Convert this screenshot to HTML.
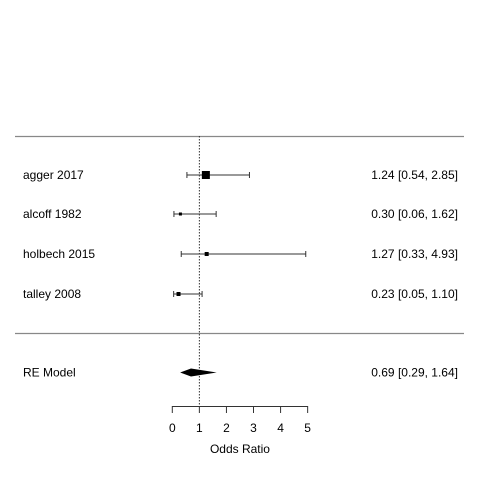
<!DOCTYPE html>
<html><head><meta charset="utf-8"><style>
body{margin:0;background:#fff;}
svg text{font-family:"Liberation Sans",sans-serif;font-size:12px;fill:#000;}
</style></head><body>
<svg id="c" width="480" height="480" xmlns="http://www.w3.org/2000/svg"></svg>
<script>
const studies=["agger 2017","alcoff 1982","holbech 2015","talley 2008"];
const est=[1.24,0.30,1.27,0.23];
const lo=[0.54,0.06,0.33,0.05];
const hi=[2.85,1.62,4.93,1.10];
const sqSize=[8,3,4,4];
const re={label:"RE Model",est:0.69,lo:0.29,hi:1.64};
const ticks=[0,1,2,3,4,5];
const NS="http://www.w3.org/2000/svg";
const svg=document.getElementById('c');
const X=v=>172.3+v*27.07;
const rowY=[175,214,254,294];
function el(t,a,p){const e=document.createElementNS(NS,t);for(const k in a)e.setAttribute(k,a[k]);(p||svg).appendChild(e);return e;}
let l=el('line',{x1:15,x2:464,y1:136.5,y2:136.5,stroke:'#888','stroke-width':1.2});


l=el('line',{x1:15,x2:464,y1:333.5,y2:333.5,stroke:'#888','stroke-width':1.2});


l=el('line',{x1:X(1),x2:X(1),y1:136,y2:406,stroke:'#333','stroke-dasharray':'1.5,1.5','stroke-width':1});


const f=v=>v.toFixed(2);
studies.forEach((s,i)=>{
  const y=rowY[i];
  const g=el('g',{});
  
  
  el('line',{x1:X(lo[i]),x2:X(hi[i]),y1:y,y2:y,stroke:'#333','stroke-width':1},g);
  el('line',{x1:X(lo[i]),x2:X(lo[i]),y1:y-3,y2:y+3,stroke:'#333','stroke-width':1},g);
  el('line',{x1:X(hi[i]),x2:X(hi[i]),y1:y-3,y2:y+3,stroke:'#333','stroke-width':1},g);
  const q=sqSize[i];
  el('rect',{x:X(est[i])-q/2,y:y-q/2,width:q,height:q,fill:'#000'},g);
  const t=el('text',{x:23,y:y+4},g);t.textContent=s;
  const t2=el('text',{x:458,y:y+4,'text-anchor':'end'},g);t2.textContent=f(est[i])+" ["+f(lo[i])+", "+f(hi[i])+"]";
});
const ry=372.5;
const d=el('polygon',{points:`${X(re.lo)},${ry} ${X(re.est)},${ry-4} ${X(re.hi)},${ry} ${X(re.est)},${ry+4}`,fill:'#000'});


let t=el('text',{x:23,y:ry+4});t.textContent=re.label;


t=el('text',{x:458,y:ry+4,'text-anchor':'end'});t.textContent=f(re.est)+" ["+f(re.lo)+", "+f(re.hi)+"]";


const ax=el('g',{});


el('line',{x1:X(ticks[0]),x2:X(ticks[ticks.length-1]),y1:406.5,y2:406.5,stroke:'#333','stroke-width':1},ax);
ticks.forEach(v=>{
  el('line',{x1:X(v),x2:X(v),y1:406,y2:413,stroke:'#333','stroke-width':1},ax);
  const tt=el('text',{x:X(v),y:432,'text-anchor':'middle'},ax);tt.textContent=v;
});
t=el('text',{x:X(2.5),y:453,'text-anchor':'middle'});t.textContent="Odds Ratio";


</script>
</body></html>
